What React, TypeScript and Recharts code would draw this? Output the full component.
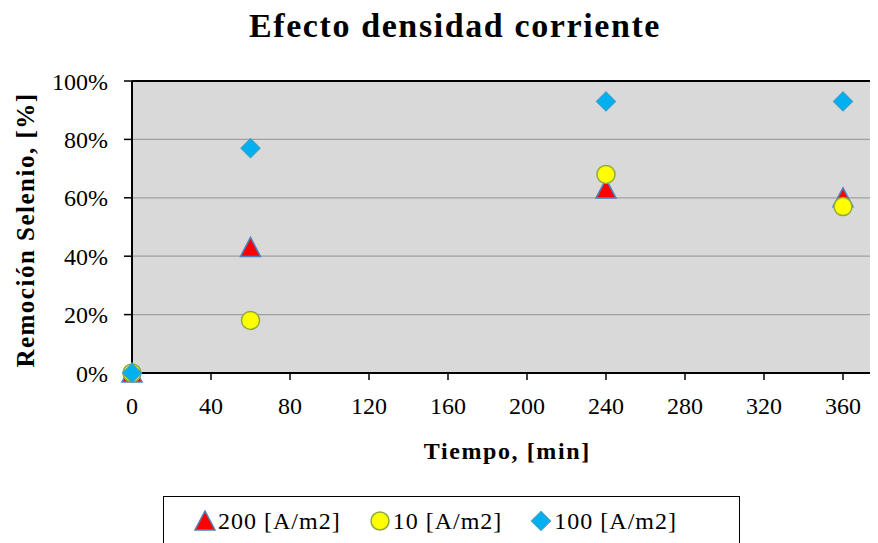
import { ScatterChart, Scatter, XAxis, YAxis, CartesianGrid, ReferenceLine, Label } from "recharts"

const times = [0, 60, 240, 360]
const seriesNames = ["200 [A/m2]", "10 [A/m2]", "100 [A/m2]"]
const values200 = [0.0, 0.43, 0.63, 0.6]
const values10 = [0.0, 0.18, 0.68, 0.57]
const values100 = [0.0, 0.77, 0.93, 0.93]
const xTicks = [0, 40, 80, 120, 160, 200, 240, 280, 320, 360]
const yTicks = [0, 0.2, 0.4, 0.6, 0.8, 1]

const serif = "'Liberation Serif', 'Times New Roman', serif"

const toPoints = (vals: number[]) => times.map((t, i) => ({ x: t, y: vals[i] }))

function Triangle({ cx, cy }: any) {
  return (
    <polygon
      points={`${cx},${cy - 10} ${cx + 10},${cy + 9} ${cx - 10},${cy + 9}`}
      fill="#ff0000"
      stroke="#4f81bd"
      strokeWidth={1.5}
    />
  )
}

function Circle({ cx, cy }: any) {
  return <circle cx={cx} cy={cy} r={9} fill="#ffff00" stroke="#8faa3c" strokeWidth={1.5} />
}

function Diamond({ cx, cy }: any) {
  return (
    <polygon
      points={`${cx},${cy - 9.5} ${cx + 9.5},${cy} ${cx},${cy + 9.5} ${cx - 9.5},${cy}`}
      fill="#00b0f0"
      stroke="#3aa0c8"
      strokeWidth={1.2}
    />
  )
}

const series = [
  { name: seriesNames[0], data: toPoints(values200), shape: Triangle },
  { name: seriesNames[1], data: toPoints(values10), shape: Circle },
  { name: seriesNames[2], data: toPoints(values100), shape: Diamond },
]

function LegendMarker({ shape: Shape }: any) {
  return (
    <svg width={22} height={22} style={{ display: "block" }}>
      <Shape cx={11} cy={11} />
    </svg>
  )
}

// rotated y-axis title, placed a bit below the plot's middle like the original
function YTitle() {
  const x = 17
  const y = 222
  return (
    <text
      x={x}
      y={y}
      transform={`rotate(-90 ${x} ${y})`}
      textAnchor="middle"
      dominantBaseline="central"
      style={{ fontFamily: serif, fontSize: 25, fontWeight: "bold", fill: "#000", letterSpacing: 1.5 }}
    >
      Remoción Selenio, [%]
    </text>
  )
}

export default function App() {
  return (
    <div style={{ position: "relative", width: 870, height: 535, overflow: "hidden", background: "#fff" }}>
      <div
        style={{
          position: "absolute",
          left: 0,
          top: 1,
          width: 894,
          textAlign: "center",
          fontFamily: serif,
          fontWeight: "bold",
          fontSize: 34,
          lineHeight: "34px",
          letterSpacing: 1.6,
          color: "#000",
        }}
      >
        Efecto densidad corriente
      </div>
      <ScatterChart width={880} height={535} margin={{ top: 73, right: 5.5, bottom: 80, left: 0 }}>
        <CartesianGrid vertical={false} fill="#d9d9d9" stroke="#a0a0a0" strokeWidth={1.2} />
        <XAxis
          type="number"
          dataKey="x"
          domain={[0, 380]}
          ticks={xTicks}
          height={90}
          tickSize={7}
          tickMargin={17}
          axisLine={{ stroke: "#000", strokeWidth: 2 }}
          tickLine={{ stroke: "#000", strokeWidth: 1.5 }}
          tick={{ fill: "#000", fontSize: 24, fontFamily: serif }}
        >
          <Label
            value="Tiempo, [min]"
            position="insideBottom"
            offset={4}
            style={{ fontFamily: serif, fontSize: 24, fontWeight: "bold", fill: "#000", letterSpacing: 1.6 }}
          />
        </XAxis>
        <YAxis
          type="number"
          dataKey="y"
          domain={[0, 1]}
          ticks={yTicks}
          width={124}
          tickSize={8}
          tickMargin={16}
          tickFormatter={(v: number) => `${Math.round(v * 100)}%`}
          axisLine={{ stroke: "#000", strokeWidth: 2 }}
          tickLine={{ stroke: "#000", strokeWidth: 1.5 }}
          tick={{ fill: "#000", fontSize: 24, fontFamily: serif }}
        >
          <Label content={() => <YTitle />} />
        </YAxis>
        <ReferenceLine y={1} stroke="#000" strokeWidth={2} />
        {series.map((s) => (
          <Scatter key={s.name} name={s.name} data={s.data} shape={s.shape} isAnimationActive={false} />
        ))}
      </ScatterChart>
      <div
        style={{
          position: "absolute",
          left: 155,
          top: 488,
          width: 577,
          height: 60,
          border: "1.5px solid #000",
          boxSizing: "border-box",
          display: "flex",
          alignItems: "flex-start",
          paddingLeft: 30,
          paddingTop: 11,
          fontFamily: serif,
          fontSize: 24,
          letterSpacing: 1,
          color: "#000",
        }}
      >
        {series.map((s) => (
          <div key={s.name} style={{ display: "flex", alignItems: "center", marginRight: 28, height: 26 }}>
            <LegendMarker shape={s.shape} />
            <span style={{ marginLeft: 2 }}>{s.name}</span>
          </div>
        ))}
      </div>
    </div>
  )
}
